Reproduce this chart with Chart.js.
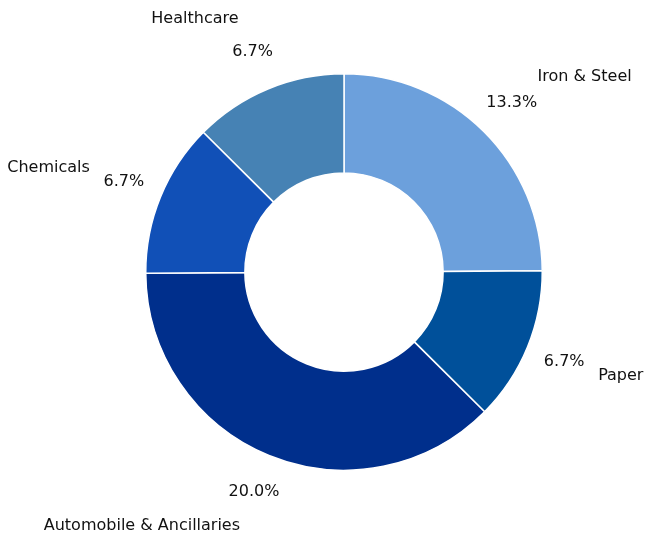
<!DOCTYPE html>
<html>
<head>
<meta charset="utf-8">
<script src="https://cdn.jsdelivr.net/npm/chart.js@4"></script>
<style>
html,body{margin:0;padding:0;background:#fff;}
#wrap{width:645px;height:539px;}
</style>
</head>
<body>
<div id="wrap"><canvas id="c" width="645" height="539"></canvas></div>
<script>
const categories = ["Iron & Steel", "Paper", "Automobile & Ancillaries", "Chemicals", "Healthcare"];
const values = [13.3, 6.7, 20.0, 6.7, 6.7];
const colors = ["#6ca0dc", "#00509a", "#002f8c", "#1150b7", "#4682b4"];

const labelPlugin = {
  id: 'outerLabels',
  afterDatasetsDraw(chart) {
    const ctx = chart.ctx;
    const meta = chart.getDatasetMeta(0);
    ctx.save();
    ctx.font = '16px "DejaVu Sans"';
    ctx.fillStyle = '#111';
    ctx.textBaseline = 'middle';
    meta.data.forEach((arc, i) => {
      const p = arc.getProps(['x','y','startAngle','endAngle','outerRadius'], true);
      const mid = (p.startAngle + p.endAngle) / 2;
      const r = p.outerRadius;
      const cx = Math.cos(mid), cy = Math.sin(mid);
      ctx.textAlign = 'center';
      ctx.fillText(values[i].toFixed(1) + '%', p.x + cx * r * 1.2, p.y + cy * r * 1.2);
      ctx.textAlign = cx >= 0 ? 'left' : 'right';
      ctx.fillText(categories[i], p.x + cx * r * 1.385, p.y + cy * r * 1.385);
    });
    ctx.restore();
  }
};

new Chart(document.getElementById('c'), {
  type: 'doughnut',
  data: {
    labels: categories,
    datasets: [{
      data: values,
      backgroundColor: colors,
      borderColor: '#ffffff',
      borderWidth: 1.5,
      hoverOffset: 0
    }]
  },
  options: {
    responsive: false,
    animation: false,
    cutout: '50%',
    layout: { padding: { top: 73, bottom: 68, left: 100, right: 57 } },
    plugins: {
      legend: { display: false },
      tooltip: { enabled: false }
    }
  },
  plugins: [labelPlugin]
});
</script>
</body>
</html>
